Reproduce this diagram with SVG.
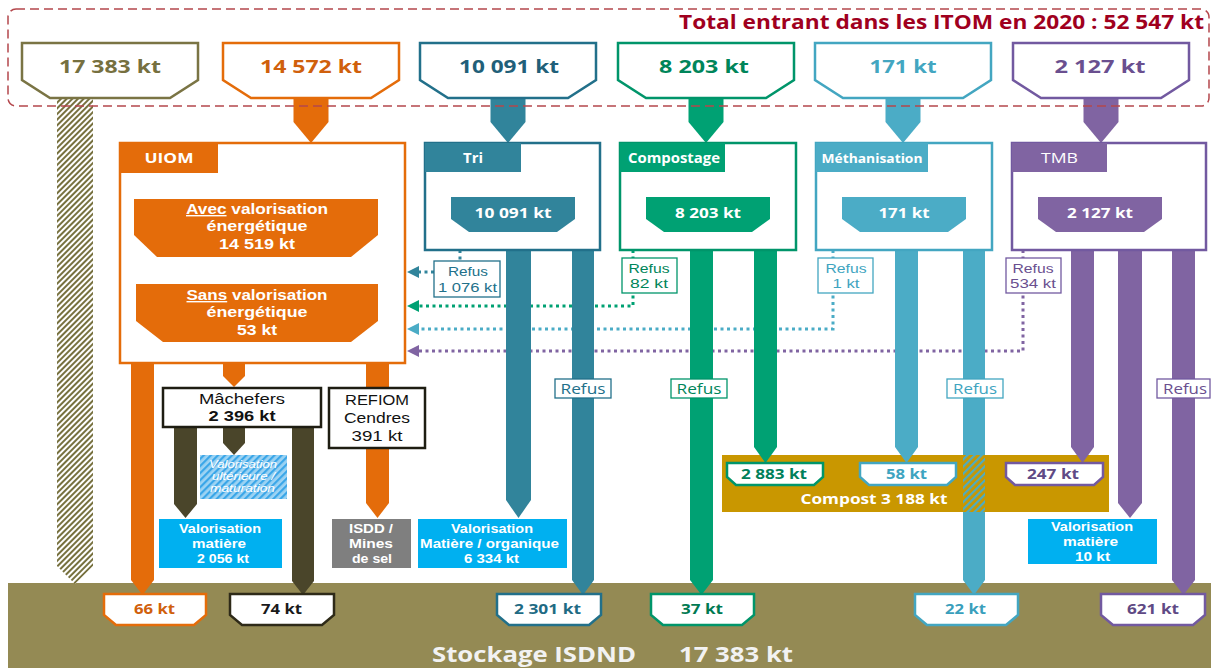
<svg xmlns="http://www.w3.org/2000/svg" width="1211" height="668" viewBox="0 0 1211 668">
  <defs>
    <style>
      text { font-family: "Open Sans", "Liberation Sans", sans-serif; text-anchor: middle; }
      .t { font-family: "Liberation Sans", Arial, sans-serif; }
      .b { font-weight: 700; }
      .w { fill: #ffffff; }
      .box { fill: #ffffff; stroke-width: 2.5; }
      .lbl { fill: #ffffff; stroke-width: 1.3; }
      .dot { fill: none; stroke-width: 3; stroke-dasharray: 3 3.5; }
      .or { fill: #e46c0a; } .orS { stroke: #e46c0a; }
      .te { fill: #31849b; } .teS { stroke: #22708a; }
      .gr { fill: #00a173; } .grS { stroke: #00956a; }
      .lb { fill: #4bacc6; } .lbS { stroke: #43a6c1; }
      .pu { fill: #8064a2; } .puS { stroke: #7259a0; }
      .dk { fill: #4a452a; }
      .cy { fill: #00b0f0; }
    </style>
    <pattern id="hOlive" width="4" height="4" patternUnits="userSpaceOnUse" patternTransform="rotate(45)">
      <rect width="4" height="4" fill="#ffffff"/>
      <rect width="2" height="4" fill="#77713f"/>
    </pattern>
    <pattern id="hBlue" width="5" height="5" patternUnits="userSpaceOnUse" patternTransform="rotate(45)">
      <rect width="5" height="5" fill="#9dd3f3"/>
      <rect width="2.2" height="5" fill="#3aa6e8"/>
    </pattern>
    <pattern id="hCompost" width="5" height="5" patternUnits="userSpaceOnUse" patternTransform="rotate(45)">
      <rect width="5" height="5" fill="#c99700"/>
      <rect width="2.2" height="5" fill="#4bacc6"/>
    </pattern>
    <marker id="aTe" viewBox="0 0 12 12" markerWidth="12" markerHeight="12" refX="0" refY="6" orient="auto" markerUnits="userSpaceOnUse"><path d="M0,0 L12,6 L0,12 Z" fill="#31849b"/></marker>
    <marker id="aGr" viewBox="0 0 12 12" markerWidth="12" markerHeight="12" refX="0" refY="6" orient="auto" markerUnits="userSpaceOnUse"><path d="M0,0 L12,6 L0,12 Z" fill="#00a173"/></marker>
    <marker id="aLb" viewBox="0 0 12 12" markerWidth="12" markerHeight="12" refX="0" refY="6" orient="auto" markerUnits="userSpaceOnUse"><path d="M0,0 L12,6 L0,12 Z" fill="#4bacc6"/></marker>
    <marker id="aPu" viewBox="0 0 12 12" markerWidth="12" markerHeight="12" refX="0" refY="6" orient="auto" markerUnits="userSpaceOnUse"><path d="M0,0 L12,6 L0,12 Z" fill="#8064a2"/></marker>
  </defs>

  <rect width="1211" height="668" fill="#ffffff"/>

  <!-- landfill band -->
  <g id="stockage">
    <rect x="8" y="583" width="1203" height="85" fill="#948a54"/>
    <text x="534" y="662" class="b" font-size="22" fill="#f2f2f2" textLength="204" lengthAdjust="spacingAndGlyphs">Stockage ISDND</text>
    <text x="736" y="662" class="b" font-size="22" fill="#f2f2f2" textLength="114" lengthAdjust="spacingAndGlyphs">17 383 kt</text>
  </g>

  <!-- compost band -->
  <g id="compost">
    <rect x="722" y="455" width="387" height="57" fill="#c99700"/>
    <rect x="963" y="455" width="22" height="57" fill="url(#hCompost)"/>
    <text x="874" y="504" class="b w" font-size="15" textLength="147" lengthAdjust="spacingAndGlyphs">Compost 3 188 kt</text>
  </g>

  <!-- flows -->
  <g id="connectors">
    <!-- refus return lines to UIOM -->
    <path class="dot" stroke="#31849b" d="M460 250 V261"/>
    <path class="dot" stroke="#31849b" d="M434 272 H419" marker-end="url(#aTe)"/>
    <path class="dot" stroke="#00a173" d="M633 250 V306 H419" marker-end="url(#aGr)"/>
    <path class="dot" stroke="#4bacc6" d="M833 250 V329 H419" marker-end="url(#aLb)"/>
    <path class="dot" stroke="#8064a2" d="M1023 250 V351 H419" marker-end="url(#aPu)"/>

    <!-- inputs -->
    <path fill="url(#hOlive)" d="M57 98 H93 V566 L75 584 L57 566 Z"/>
    <path class="or" d="M293.5 97 H328.5 V122 L311 143 L293.5 122 Z"/>
    <path class="te" d="M490.5 97 H525.5 V122 L508 143 L490.5 122 Z"/>
    <path class="gr" d="M688.5 97 H723.5 V122 L706 143 L688.5 122 Z"/>
    <path class="lb" d="M885.5 97 H920.5 V122 L903 143 L885.5 122 Z"/>
    <path class="pu" d="M1083.5 97 H1118.5 V122 L1101 143 L1083.5 122 Z"/>

    <!-- UIOM outputs -->
    <path class="or" d="M131 362 H154 V580 L142.5 595 L131 580 Z"/>
    <path class="or" d="M223 362 H245 V376 L234 387 L223 376 Z"/>
    <path class="or" d="M366 362 H389 V503 L377.5 518 L366 503 Z"/>

    <!-- bottom ash outputs -->
    <path class="dk" d="M174 427 H197 V504 L185.5 518 L174 504 Z"/>
    <path class="dk" d="M223 427 H245 V443 L234 455 L223 443 Z"/>
    <path class="dk" d="M292 427 H314 V581 L303 595 L292 581 Z"/>

    <!-- Tri outputs -->
    <path class="te" d="M506 250 H531 V500 L518.5 518 L506 500 Z"/>
    <path class="te" d="M572 250 H594 V580 L583 595 L572 580 Z"/>

    <!-- Compostage outputs -->
    <path class="gr" d="M690 250 H713 V580 L701.5 595 L690 580 Z"/>
    <path class="gr" d="M754 250 H777 V447 L765.5 463 L754 447 Z"/>

    <!-- Méthanisation outputs -->
    <path class="lb" d="M895 250 H918 V447 L906.5 463 L895 447 Z"/>
    <path class="lb" d="M963 250 H985 V455 H963 Z"/>
    <path class="lb" d="M963 512 H985 V580 L974 595 L963 580 Z"/>

    <!-- TMB outputs -->
    <path class="pu" d="M1071 250 H1094 V447 L1082.5 463 L1071 447 Z"/>
    <path class="pu" d="M1118 250 H1142 V503 L1130 518 L1118 503 Z"/>
    <path class="pu" d="M1172 250 H1195 V580 L1183.5 595 L1172 580 Z"/>
  </g>

  <!-- input totals -->
  <g id="in-stockage">
    <path class="box" stroke="#7a7444" d="M22 43 H198 V80 L170 98 H50 L22 80 Z"/>
    <text x="110" y="73" class="b" font-size="17" fill="#76703f" textLength="102" lengthAdjust="spacingAndGlyphs">17 383 kt</text>
  </g>
  <g id="in-uiom">
    <path class="box orS" d="M223 43 H399 V80 L371 98 H251 L223 80 Z"/>
    <text x="311" y="73" class="b" font-size="17" fill="#d0600c" textLength="102" lengthAdjust="spacingAndGlyphs">14 572 kt</text>
  </g>
  <g id="in-tri">
    <path class="box teS" d="M420 43 H596 V80 L568 98 H448 L420 80 Z"/>
    <text x="509" y="73" class="b" font-size="17" fill="#215f79" textLength="100" lengthAdjust="spacingAndGlyphs">10 091 kt</text>
  </g>
  <g id="in-compostage">
    <path class="box grS" d="M618 43 H794 V80 L766 98 H646 L618 80 Z"/>
    <text x="704" y="73" class="b" font-size="17" fill="#00855a" textLength="90" lengthAdjust="spacingAndGlyphs">8 203 kt</text>
  </g>
  <g id="in-methanisation">
    <path class="box lbS" d="M815 43 H991 V80 L963 98 H843 L815 80 Z"/>
    <text x="903" y="73" class="b" font-size="17" fill="#43a6c1" textLength="67" lengthAdjust="spacingAndGlyphs">171 kt</text>
  </g>
  <g id="in-tmb">
    <path class="box puS" d="M1013 43 H1189 V80 L1161 98 H1041 L1013 80 Z"/>
    <text x="1100" y="73" class="b" font-size="17" fill="#6a4f8f" textLength="91" lengthAdjust="spacingAndGlyphs">2 127 kt</text>
  </g>

  <!-- frame and title -->
  <g id="total">
    <rect x="8" y="9" width="1201" height="97" rx="8" fill="none" stroke="#b4474c" stroke-width="1.5" stroke-dasharray="9 5"/>
    <text x="941.5" y="29" class="b" font-size="19" fill="#a0001e" textLength="525" lengthAdjust="spacingAndGlyphs">Total entrant dans les ITOM en 2020 : 52 547 kt</text>
  </g>

  <!-- UIOM -->
  <g id="uiom">
    <rect x="120" y="143" width="285" height="220" class="box orS"/>
    <rect x="120" y="143" width="98" height="30" class="or"/>
    <text x="169" y="163" class="b w" font-size="15" textLength="49" lengthAdjust="spacingAndGlyphs">UIOM</text>
    <path class="or" d="M134 199 H378 V235 L351 257 H157 L134 235 Z"/>
    <text x="257" y="214" class="t b w" font-size="14" textLength="142" lengthAdjust="spacingAndGlyphs"><tspan text-decoration="underline">Avec</tspan> valorisation</text>
    <text x="257" y="231" class="t b w" font-size="14" textLength="101" lengthAdjust="spacingAndGlyphs">énergétique</text>
    <text x="257" y="249" class="t b w" font-size="14" textLength="76" lengthAdjust="spacingAndGlyphs">14 519 kt</text>
    <path class="or" d="M136 284 H378 V321 L351 342 H163 L136 321 Z"/>
    <text x="257" y="300" class="t b w" font-size="14" textLength="141" lengthAdjust="spacingAndGlyphs"><tspan text-decoration="underline">Sans</tspan> valorisation</text>
    <text x="257" y="317" class="t b w" font-size="14" textLength="101" lengthAdjust="spacingAndGlyphs">énergétique</text>
    <text x="257" y="335" class="t b w" font-size="14" textLength="40" lengthAdjust="spacingAndGlyphs">53 kt</text>
  </g>

  <!-- Tri -->
  <g id="tri">
    <rect x="425" y="143" width="175" height="107" class="box teS"/>
    <rect x="425" y="143" width="96" height="29" class="te"/>
    <text x="473" y="163" class="b w" font-size="15" textLength="20" lengthAdjust="spacingAndGlyphs">Tri</text>
    <path class="te" d="M451 197 H575 V219 L557 232 H469 L451 219 Z"/>
    <text x="513" y="218" class="b w" font-size="14" textLength="77" lengthAdjust="spacingAndGlyphs">10 091 kt</text>
  </g>

  <!-- Compostage -->
  <g id="compostage">
    <rect x="620" y="143" width="176" height="107" class="box grS"/>
    <rect x="620" y="143" width="105" height="29" class="gr"/>
    <text x="674" y="163" class="b w" font-size="14" textLength="92" lengthAdjust="spacingAndGlyphs">Compostage</text>
    <path class="gr" d="M646 197 H770 V219 L752 232 H664 L646 219 Z"/>
    <text x="708" y="218" class="b w" font-size="14" textLength="66" lengthAdjust="spacingAndGlyphs">8 203 kt</text>
  </g>

  <!-- Méthanisation -->
  <g id="methanisation">
    <rect x="816" y="143" width="176" height="107" class="box lbS"/>
    <rect x="816" y="143" width="112" height="29" class="lb"/>
    <text x="872" y="163" class="b w" font-size="13" textLength="101" lengthAdjust="spacingAndGlyphs">Méthanisation</text>
    <path class="lb" d="M842 197 H966 V219 L948 232 H860 L842 219 Z"/>
    <text x="904" y="218" class="b w" font-size="14" textLength="51" lengthAdjust="spacingAndGlyphs">171 kt</text>
  </g>

  <!-- TMB -->
  <g id="tmb">
    <rect x="1012" y="143" width="194" height="107" class="box puS"/>
    <rect x="1012" y="143" width="95" height="29" class="pu"/>
    <text x="1059.5" y="163" class="w" font-size="15" textLength="37" lengthAdjust="spacingAndGlyphs">TMB</text>
    <path class="pu" d="M1038 197 H1162 V219 L1144 232 H1056 L1038 219 Z"/>
    <text x="1100" y="218" class="b w" font-size="14" textLength="66" lengthAdjust="spacingAndGlyphs">2 127 kt</text>
  </g>

  <!-- refus labels towards UIOM -->
  <g id="refus-tri">
    <rect x="434" y="261" width="66" height="36" class="lbl teS"/>
    <text x="468" y="276" class="t" font-size="13" fill="#22708a" textLength="40" lengthAdjust="spacingAndGlyphs">Refus</text>
    <text x="467.5" y="292" class="t" font-size="13" fill="#22708a" textLength="59" lengthAdjust="spacingAndGlyphs">1 076 kt</text>
  </g>
  <g id="refus-compostage">
    <rect x="622" y="258" width="55" height="35" class="lbl grS"/>
    <text x="649" y="273" class="t" font-size="13" fill="#00855a" textLength="41" lengthAdjust="spacingAndGlyphs">Refus</text>
    <text x="649" y="288" class="t" font-size="13" fill="#00855a" textLength="38" lengthAdjust="spacingAndGlyphs">82 kt</text>
  </g>
  <g id="refus-methanisation">
    <rect x="818" y="258" width="55" height="35" class="lbl lbS"/>
    <text x="846" y="273" class="t" font-size="13" fill="#3ea4c0" textLength="41" lengthAdjust="spacingAndGlyphs">Refus</text>
    <text x="846" y="288" class="t" font-size="13" fill="#3ea4c0" textLength="27" lengthAdjust="spacingAndGlyphs">1 kt</text>
  </g>
  <g id="refus-tmb">
    <rect x="1006" y="258" width="55" height="35" class="lbl puS"/>
    <text x="1033" y="273" class="t" font-size="13" fill="#6a4f8f" textLength="41" lengthAdjust="spacingAndGlyphs">Refus</text>
    <text x="1033" y="288" class="t" font-size="13" fill="#6a4f8f" textLength="46" lengthAdjust="spacingAndGlyphs">534 kt</text>
  </g>

  <!-- refus labels on landfill flows -->
  <g id="refus-tri-stockage">
    <rect x="555" y="379" width="56" height="19" class="lbl teS"/>
    <text x="583" y="394" font-size="14" fill="#22708a" textLength="45" lengthAdjust="spacingAndGlyphs">Refus</text>
  </g>
  <g id="refus-compostage-stockage">
    <rect x="671" y="379" width="56" height="19" class="lbl grS"/>
    <text x="699" y="394" font-size="14" fill="#00855a" textLength="45" lengthAdjust="spacingAndGlyphs">Refus</text>
  </g>
  <g id="refus-methanisation-stockage">
    <rect x="947" y="379" width="56" height="19" class="lbl lbS"/>
    <text x="975" y="394" font-size="14" fill="#3ea4c0" textLength="44" lengthAdjust="spacingAndGlyphs">Refus</text>
  </g>
  <g id="refus-tmb-stockage">
    <rect x="1157" y="379" width="53" height="19" class="lbl puS"/>
    <text x="1185" y="394" font-size="14" fill="#6a4f8f" textLength="44" lengthAdjust="spacingAndGlyphs">Refus</text>
  </g>

  <!-- UIOM residues -->
  <g id="machefers">
    <rect x="163" y="388" width="158" height="39" class="box" stroke="#1e1d12"/>
    <text x="242" y="404" class="t" font-size="15" fill="#111111" textLength="86" lengthAdjust="spacingAndGlyphs">Mâchefers</text>
    <text x="242" y="421" class="t b" font-size="15" fill="#111111" textLength="67" lengthAdjust="spacingAndGlyphs">2 396 kt</text>
  </g>
  <g id="refiom">
    <rect x="329" y="388" width="96" height="60" class="box" stroke="#1e1d12"/>
    <text x="377" y="405" class="t" font-size="15" fill="#111111" textLength="64" lengthAdjust="spacingAndGlyphs">REFIOM</text>
    <text x="377" y="423" class="t" font-size="15" fill="#111111" textLength="66" lengthAdjust="spacingAndGlyphs">Cendres</text>
    <text x="377" y="441" class="t" font-size="15" fill="#111111" textLength="51" lengthAdjust="spacingAndGlyphs">391 kt</text>
  </g>
  <g id="maturation">
    <rect x="200" y="455" width="87" height="44" fill="url(#hBlue)"/>
    <text x="243" y="468" class="t w" font-size="10" font-style="italic" textLength="68" lengthAdjust="spacingAndGlyphs">Valorisation</text>
    <text x="243.5" y="480" class="t w" font-size="10" font-style="italic" textLength="63" lengthAdjust="spacingAndGlyphs">ultérieure /</text>
    <text x="242.5" y="492" class="t w" font-size="10" font-style="italic" textLength="65" lengthAdjust="spacingAndGlyphs">maturation</text>
  </g>
  <g id="valo-machefers">
    <rect x="159" y="519" width="123" height="49" class="cy"/>
    <text x="220" y="533" class="t b w" font-size="13" textLength="82" lengthAdjust="spacingAndGlyphs">Valorisation</text>
    <text x="219" y="548" class="t b w" font-size="13" textLength="54" lengthAdjust="spacingAndGlyphs">matière</text>
    <text x="223" y="563" class="t b w" font-size="13" textLength="52" lengthAdjust="spacingAndGlyphs">2 056 kt</text>
  </g>
  <g id="isdd">
    <rect x="332" y="519" width="79" height="49" fill="#7f7f7f"/>
    <text x="371" y="533" class="t b w" font-size="13" textLength="44" lengthAdjust="spacingAndGlyphs">ISDD /</text>
    <text x="371" y="548" class="t b w" font-size="13" textLength="44" lengthAdjust="spacingAndGlyphs">Mines</text>
    <text x="372" y="563" class="t b w" font-size="13" textLength="40" lengthAdjust="spacingAndGlyphs">de sel</text>
  </g>
  <g id="valo-tri">
    <rect x="418" y="519" width="149" height="49" class="cy"/>
    <text x="492" y="533" class="t b w" font-size="13" textLength="82" lengthAdjust="spacingAndGlyphs">Valorisation</text>
    <text x="489.5" y="548" class="t b w" font-size="13" textLength="139" lengthAdjust="spacingAndGlyphs">Matière / organique</text>
    <text x="491.5" y="563" class="t b w" font-size="13" textLength="55" lengthAdjust="spacingAndGlyphs">6 334 kt</text>
  </g>
  <g id="valo-tmb">
    <rect x="1028" y="519" width="129" height="45" class="cy"/>
    <text x="1092" y="531" class="t b w" font-size="13" textLength="82" lengthAdjust="spacingAndGlyphs">Valorisation</text>
    <text x="1090.5" y="546" class="t b w" font-size="13" textLength="55" lengthAdjust="spacingAndGlyphs">matière</text>
    <text x="1092.5" y="561" class="t b w" font-size="13" textLength="35" lengthAdjust="spacingAndGlyphs">10 kt</text>
  </g>

  <!-- compost contributions -->
  <g id="compost-compostage">
    <path class="box grS" d="M727 463 H823 V477 L814 485 H736 L727 477 Z"/>
    <text x="774" y="479" class="b" font-size="14" fill="#00805a" textLength="66" lengthAdjust="spacingAndGlyphs">2 883 kt</text>
  </g>
  <g id="compost-methanisation">
    <path class="box lbS" d="M860 463 H956 V477 L947 485 H869 L860 477 Z"/>
    <text x="906.5" y="479" class="b" font-size="14" fill="#3ea4c0" textLength="41" lengthAdjust="spacingAndGlyphs">58 kt</text>
  </g>
  <g id="compost-tmb">
    <path class="box puS" d="M1006 463 H1103 V477 L1094 485 H1015 L1006 477 Z"/>
    <text x="1053" y="479" class="b" font-size="14" fill="#5f4a85" textLength="52" lengthAdjust="spacingAndGlyphs">247 kt</text>
  </g>

  <!-- landfill contributions -->
  <g id="out-uiom">
    <path class="box orS" d="M104 594 H206 V615 L194 625 H116 L104 615 Z"/>
    <text x="154.5" y="614" class="b" font-size="14" fill="#d0600c" textLength="41" lengthAdjust="spacingAndGlyphs">66 kt</text>
  </g>
  <g id="out-machefers">
    <path class="box" stroke="#2e2a18" d="M230 594 H334 V615 L322 625 H242 L230 615 Z"/>
    <text x="281.5" y="614" class="b" font-size="14" fill="#1a1a1a" textLength="41" lengthAdjust="spacingAndGlyphs">74 kt</text>
  </g>
  <g id="out-tri">
    <path class="box teS" d="M497 594 H601 V615 L589 625 H509 L497 615 Z"/>
    <text x="547.5" y="614" class="b" font-size="14" fill="#1f6b84" textLength="67" lengthAdjust="spacingAndGlyphs">2 301 kt</text>
  </g>
  <g id="out-compostage">
    <path class="box grS" d="M651 594 H754 V615 L742 625 H663 L651 615 Z"/>
    <text x="702" y="614" class="b" font-size="14" fill="#007a52" textLength="42" lengthAdjust="spacingAndGlyphs">37 kt</text>
  </g>
  <g id="out-methanisation">
    <path class="box lbS" d="M915 594 H1018 V615 L1006 625 H927 L915 615 Z"/>
    <text x="965.5" y="614" class="b" font-size="14" fill="#3a9fbc" textLength="41" lengthAdjust="spacingAndGlyphs">22 kt</text>
  </g>
  <g id="out-tmb">
    <path class="box puS" d="M1101 594 H1205 V615 L1193 625 H1113 L1101 615 Z"/>
    <text x="1153" y="614" class="b" font-size="14" fill="#5f4a85" textLength="52" lengthAdjust="spacingAndGlyphs">621 kt</text>
  </g>
</svg>
